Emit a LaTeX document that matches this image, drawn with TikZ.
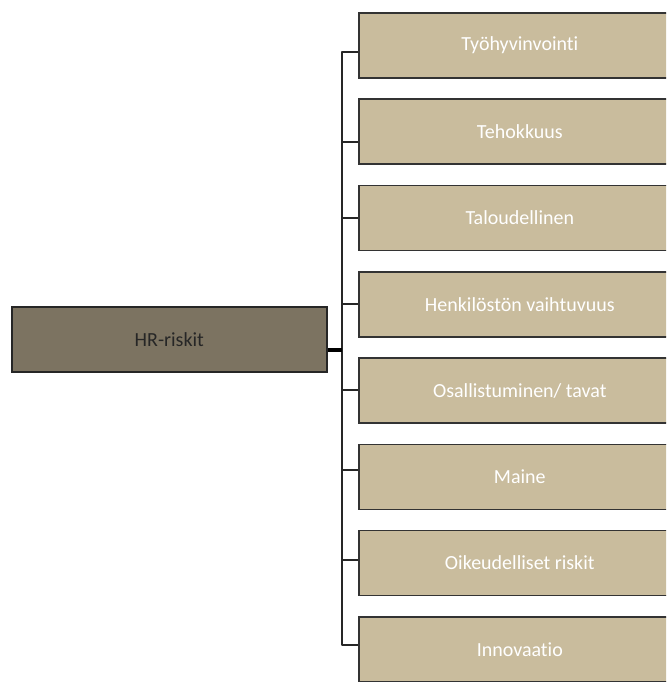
\documentclass[tikz,border=0pt]{standalone}
\usepackage{fontspec}
\setmainfont[Ligatures=NoCommon]{Carlito}
\begin{document}
\begin{tikzpicture}[x=1pt,y=-1pt,
  childbox/.style={draw=black!80,line width=1.6pt,fill=childfill,minimum width=322pt,minimum height=65pt,anchor=north west,inner sep=0pt,text=white,font=\fontsize{20}{24}\selectfont},
  rootbox/.style={draw=black!85,line width=1.6pt,fill=rootfill,minimum width=315pt,minimum height=65pt,anchor=north west,inner sep=0pt,text=black!85,font=\fontsize{20}{24}\selectfont},
  link/.style={draw=black!85,line width=1.3pt}]
\definecolor{childfill}{HTML}{C9BC9D}
\definecolor{rootfill}{HTML}{7C7361}
\useasboundingbox (0,0) rectangle (666,682);
\clip (0,0) rectangle (666,682);
\node[rootbox] (root) at (11,306) {HR-riskit};
\foreach \i/\t in {0/{Työhyvinvointi},1/{Tehokkuus},2/{Taloudellinen},3/{Henkilöstön vaihtuvuus},4/{Osallistuminen/ tavat},5/{Maine},6/{Oikeudelliset riskit},7/{Innovaatio}}{
  \node[childbox] (c\i) at (358,{12+\i*86.3}) {\t};
}
\coordinate (top) at (342,52);
\coordinate (bot) at (342,645);
\coordinate (jn) at (342,350);
\draw[link,line join=round] (c0.west |- top) -- (top) -- (bot) -- (c7.west |- bot);
\foreach \i/\y in {1/142,2/218,3/304,4/390,5/470,6/560}{
  \draw[link] (342,\y) -- (c\i.west |- {(0,\y)});
}
\draw[draw=black,line width=3.5pt] (root.east |- jn) -- (jn);
\end{tikzpicture}
\end{document}
